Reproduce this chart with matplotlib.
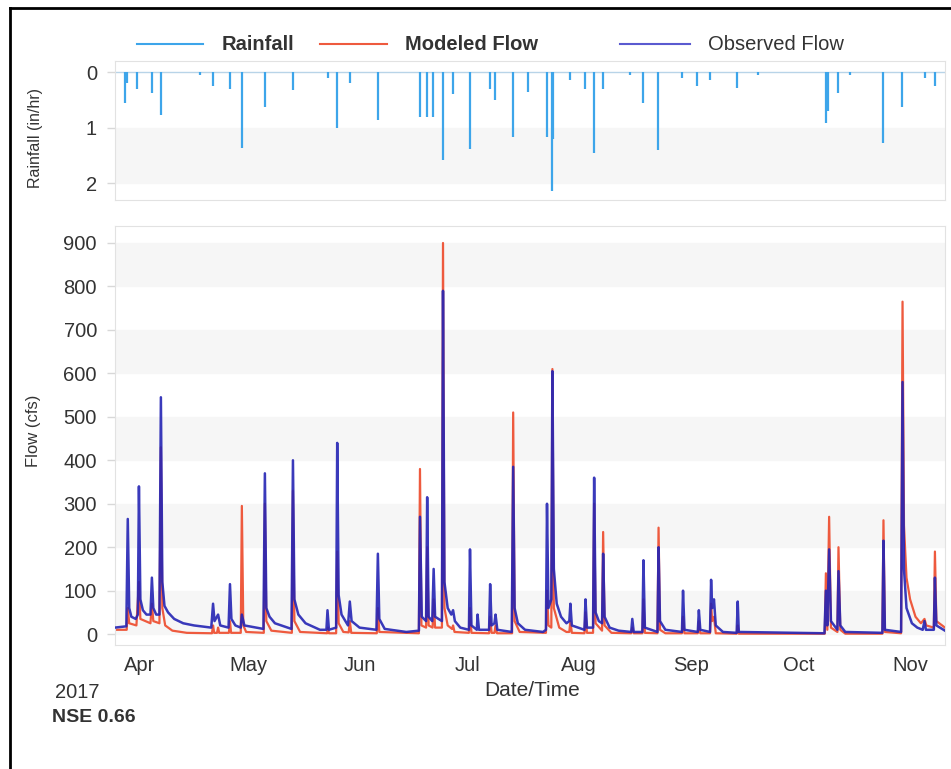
#!/usr/bin/env python3
"""Rainfall / modeled vs observed flow hydrograph, 2017 season."""

import matplotlib
matplotlib.use("Agg")
import matplotlib.pyplot as plt
from matplotlib.lines import Line2D

plt.rcParams["font.family"] = ["Liberation Sans", "DejaVu Sans"]

# ---------------------------------------------------------------------------
# Data (days after 2017-04-01)
# ---------------------------------------------------------------------------

MONTH_DAYS = [0, 30, 61, 91, 122, 153, 183, 214]
MONTH_LABELS = ["Apr", "May", "Jun", "Jul", "Aug", "Sep", "Oct", "Nov"]

# (day, in/hr)
RAIN = [(-4.2, 0.56), (-3.6, 0.2), (-0.8, 0.3), (3.3, 0.37), (5.8, 0.78),
        (16.7, 0.05), (20.3, 0.25), (25.0, 0.3), (28.3, 1.37), (34.7, 0.62),
        (42.5, 0.32), (52.2, 0.1), (54.8, 1.0), (58.4, 0.2), (66.1, 0.87),
        (77.8, 0.8), (79.8, 0.8), (81.4, 0.8), (84.2, 1.58), (87.0, 0.4),
        (91.7, 1.38), (97.3, 0.3), (98.7, 0.5), (103.7, 1.17), (107.8, 0.35),
        (113.1, 1.17), (114.5, 2.13), (114.8, 1.2), (119.5, 0.15),
        (123.7, 0.3), (126.2, 1.46), (128.7, 0.3), (136.2, 0.05),
        (139.8, 0.55), (144.0, 1.4), (150.6, 0.1), (154.8, 0.25),
        (158.4, 0.15), (165.9, 0.28), (171.8, 0.05), (190.6, 0.92),
        (191.2, 0.7), (194.0, 0.37), (197.3, 0.05), (206.5, 1.28),
        (211.8, 0.63), (218.2, 0.1), (221.0, 0.25)]

# (day, cfs)
OBSERVED = [
    (-7.0, 15), (-3.8, 18), (-3.4, 265), (-3.0, 60), (-2.4, 40), (-1.2, 35),
    (-0.6, 45), (-0.3, 340), (0.1, 80), (0.8, 55), (1.8, 45), (2.9, 45),
    (3.3, 130), (3.7, 60), (4.5, 45), (5.4, 45), (5.8, 545), (6.2, 120),
    (6.8, 65), (7.8, 50), (9.5, 35), (12.0, 25), (15.0, 20), (19.8, 15),
    (20.3, 70), (20.7, 30), (21.7, 45), (22.3, 20), (24.6, 15), (25.0, 115),
    (25.4, 35), (26.5, 20), (28.0, 15), (28.3, 45), (29.0, 20), (34.3, 12),
    (34.7, 370), (35.1, 60), (36.0, 40), (37.5, 25), (42.1, 12), (42.5, 400),
    (42.9, 80), (44.0, 45), (46.0, 25), (50.0, 10), (51.8, 10), (52.1, 55),
    (52.5, 10), (54.5, 15), (54.8, 440), (55.2, 90), (56.0, 45), (57.8, 20),
    (58.3, 75), (58.8, 30), (61.0, 15), (65.7, 10), (66.1, 185), (66.5, 35),
    (68.0, 12), (74.0, 5), (77.5, 8), (77.8, 270), (78.3, 40), (79.5, 30),
    (79.8, 315), (80.2, 40), (81.2, 30), (81.6, 150), (82.0, 40), (83.9, 30),
    (84.2, 790), (84.6, 120), (85.5, 60), (86.5, 45), (87.0, 55), (87.5, 30),
    (89.0, 15), (91.4, 10), (91.7, 195), (92.1, 20), (93.6, 10), (93.8, 45),
    (94.2, 10), (97.0, 10), (97.3, 115), (97.7, 20), (98.5, 25), (98.8, 45),
    (99.3, 10), (103.3, 5), (103.7, 385), (104.1, 60), (105.0, 25),
    (107.0, 10), (112.0, 5), (112.8, 10), (113.1, 300), (113.5, 60),
    (114.3, 80), (114.6, 605), (115.0, 150), (115.8, 70), (117.0, 40),
    (118.5, 25), (119.3, 30), (119.6, 70), (120.0, 20), (123.5, 10),
    (123.8, 80), (124.2, 15), (125.9, 15), (126.2, 360), (126.6, 50),
    (127.5, 30), (128.4, 25), (128.7, 185), (129.1, 40), (130.5, 15),
    (133.0, 8), (136.5, 5), (136.8, 35), (137.2, 5), (139.6, 5),
    (139.9, 170), (140.3, 15), (143.8, 5), (144.1, 200), (144.5, 30),
    (146.0, 10), (150.6, 5), (150.9, 100), (151.3, 10), (155.0, 5),
    (155.3, 55), (155.7, 10), (158.4, 5), (158.7, 125), (159.0, 60),
    (159.5, 80), (160.0, 20), (162.0, 5), (165.8, 3), (166.1, 75),
    (166.4, 5), (190.2, 2), (190.6, 100), (191.0, 20), (191.5, 195),
    (192.0, 30), (193.8, 10), (194.1, 145), (194.6, 20), (196.0, 5),
    (206.3, 3), (206.6, 215), (207.0, 10), (211.5, 5), (211.9, 580),
    (212.3, 150), (213.0, 60), (214.5, 25), (216.0, 15), (217.5, 10),
    (218.0, 30), (218.4, 10), (220.6, 10), (220.9, 130), (221.3, 20),
    (223.7, 8),
]

MODELED = [
    (-7.0, 10), (-3.7, 10), (-3.4, 60), (-3.0, 25), (-1.0, 20), (-0.3, 120),
    (0.1, 35), (2.9, 25), (3.3, 70), (3.7, 30), (5.4, 25), (5.8, 430),
    (6.2, 60), (7.0, 20), (9.0, 8), (13.0, 3), (20.0, 2), (20.3, 20),
    (20.6, 3), (21.4, 3), (21.7, 15), (22.0, 3), (24.7, 3), (25.0, 30),
    (25.3, 3), (28.0, 3), (28.3, 295), (28.7, 20), (29.5, 5), (34.4, 3),
    (34.7, 300), (35.1, 30), (36.5, 8), (42.2, 3), (42.5, 330), (42.9, 30),
    (44.5, 5), (52.0, 2), (52.2, 15), (52.5, 2), (54.5, 2), (54.8, 190),
    (55.2, 25), (56.5, 5), (58.0, 4), (58.3, 30), (58.7, 3), (65.8, 2),
    (66.1, 60), (66.5, 5), (77.5, 2), (77.8, 380), (78.2, 20), (79.5, 15),
    (79.8, 200), (80.2, 20), (81.3, 15), (81.6, 80), (82.0, 15), (83.9, 15),
    (84.2, 900), (84.6, 60), (85.5, 20), (86.7, 12), (87.0, 20), (87.4, 5),
    (91.4, 3), (91.7, 60), (92.1, 3), (97.0, 2), (97.3, 40), (97.7, 3),
    (98.5, 3), (98.8, 20), (99.2, 2), (103.4, 2), (103.7, 510), (104.1, 30),
    (105.5, 5), (112.8, 3), (113.1, 100), (113.5, 20), (114.3, 15),
    (114.6, 610), (115.0, 60), (116.5, 15), (118.5, 5), (119.3, 5),
    (119.6, 30), (120.0, 3), (123.5, 2), (123.8, 50), (124.2, 3),
    (125.9, 3), (126.2, 300), (126.6, 25), (128.4, 8), (128.7, 235),
    (129.1, 20), (131.0, 3), (136.5, 2), (136.8, 15), (137.2, 2),
    (139.6, 2), (139.9, 80), (140.3, 3), (143.8, 2), (144.1, 245),
    (144.5, 10), (146.0, 2), (150.6, 2), (150.9, 40), (151.3, 2),
    (155.0, 2), (155.3, 30), (155.7, 2), (158.4, 2), (158.7, 70),
    (159.0, 30), (159.5, 40), (160.0, 2), (165.8, 1), (166.1, 20),
    (166.4, 1), (190.3, 1), (190.6, 140), (191.0, 10), (191.5, 270),
    (192.0, 15), (193.8, 5), (194.1, 200), (194.6, 10), (196.0, 1),
    (206.3, 1), (206.6, 262), (207.0, 5), (211.5, 2), (211.9, 765),
    (212.3, 250), (213.0, 130), (214.0, 80), (215.5, 40), (217.0, 25),
    (218.0, 35), (218.5, 20), (220.6, 15), (220.9, 190), (221.3, 30),
    (223.7, 15),
]

# ---------------------------------------------------------------------------
# Style
# ---------------------------------------------------------------------------

RAIN_COLOR = "#3da5ea"
MOD_COLOR = "#ee5a3e"
OBS_COLOR = "#2424b4"
OBS_LEGEND = "#5a5ad0"
TEXT_COLOR = "#333333"
BAND = "#f6f6f6"
FRAME = "#e2e2e2"

W, H = 951, 769
fig = plt.figure(figsize=(W / 100, H / 100), dpi=100)

XLIM = (-6.95, 223.7)

rain_days, rain_vals = zip(*RAIN)
obs_days, obs_vals = zip(*OBSERVED)
mod_days, mod_vals = zip(*MODELED)

# ── Rainfall panel ──────────────────────────────────────────────────────
ax_r = fig.add_axes([115 / W, 1 - 200 / H, 830 / W, 139 / H])
ax_r.axhspan(1, 2, color=BAND, zorder=0)
ax_r.axhline(0, color="#b8d4e8", lw=1.0, zorder=1)
ax_r.vlines(rain_days, 0, rain_vals, color=RAIN_COLOR, lw=1.6, zorder=2)
ax_r.set_xlim(*XLIM)
ax_r.set_ylim(2.3, -0.2)
ax_r.set_yticks([0, 1, 2])
ax_r.set_xticks([])
ax_r.set_ylabel("Rainfall (in/hr)", fontsize=11.5, color=TEXT_COLOR)
ax_r.yaxis.set_label_coords(-0.0867, 0.446)

# ── Flow panel ──────────────────────────────────────────────────────────
ax_f = fig.add_axes([115 / W, 1 - 645 / H, 830 / W, 419.4 / H])
for lo in range(0, 900, 200):
    ax_f.axhspan(lo, lo + 100, color=BAND, zorder=0)
ax_f.plot(mod_days, mod_vals, color=MOD_COLOR, lw=1.6, zorder=2)
ax_f.plot(obs_days, obs_vals, color=OBS_COLOR, lw=1.8, alpha=0.9, zorder=3)
ax_f.set_xlim(*XLIM)
ax_f.set_ylim(-25, 940)
ax_f.set_yticks(range(0, 901, 100))
ax_f.set_xticks(MONTH_DAYS)
ax_f.set_xticklabels(MONTH_LABELS)
ax_f.set_ylabel("Flow (cfs)", fontsize=12, color=TEXT_COLOR)
ax_f.yaxis.set_label_coords(-0.089, 0.51)

for ax in (ax_r, ax_f):
    for sp in ax.spines.values():
        sp.set_color(FRAME)
        sp.set_linewidth(0.8)
    ax.tick_params(axis="y", length=6, width=1, color="#d8d8d8", pad=7,
                   labelsize=14.5, labelcolor=TEXT_COLOR)
    ax.tick_params(axis="x", length=0, pad=8, labelsize=14.5,
                   labelcolor=TEXT_COLOR)

fig.text(532 / W, 1 - 690 / H, "Date/Time", ha="center", va="center",
         fontsize=15, color=TEXT_COLOR)
fig.text(55 / W, 1 - 692 / H, "2017", ha="left", va="center",
         fontsize=14.5, color=TEXT_COLOR)
fig.text(52 / W, 1 - 718 / H, "NSE 0.66", ha="left", va="center",
         fontsize=14, color=TEXT_COLOR, fontweight="bold")

# ── Legend (hand placed, items sit in fixed slots) ─────────────────────
legend_items = [
    ("Rainfall", RAIN_COLOR, "bold", 137, 203, 222),
    ("Modeled Flow", MOD_COLOR, "bold", 320, 387, 405),
    ("Observed Flow", OBS_LEGEND, "normal", 620, 690, 708),
]
y_leg = 1 - 44 / H
for label, color, weight, x0, x1, xt in legend_items:
    fig.add_artist(Line2D([x0 / W, x1 / W], [y_leg, y_leg], color=color, lw=1.5))
    fig.text(xt / W, y_leg, label, ha="left", va="center", fontsize=14.5,
             fontweight=weight, color=TEXT_COLOR)

# outer frame (left + top edges of the screenshot)
fig.add_artist(Line2D([10 / W, 10 / W], [0, 1 - 8 / H], color="black", lw=2))
fig.add_artist(Line2D([10 / W, 1], [1 - 8 / H, 1 - 8 / H], color="black", lw=2))

fig.savefig("out.png", dpi=100)
